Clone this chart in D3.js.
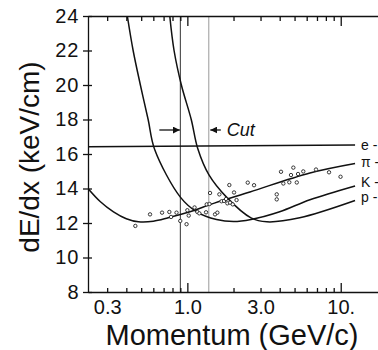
<!DOCTYPE html>
<html>
<head>
<meta charset="utf-8">
<script src="https://cdn.jsdelivr.net/npm/d3@7"></script>
<style>
    body { margin: 0; background: #fff; }
    svg text { font-family: "Liberation Sans", Arial, sans-serif; fill: #111; }
    .axis path, .axis line { stroke: #111; stroke-width: 1.3; }
</style>
</head>
<body>
<svg id="chart" width="378" height="350"></svg>
<script>
// momentum in GeV/c, dE/dx in keV/cm
const xTickValues = [0.3, 1, 3, 10];
const xTickLabels = ["0.3", "1.0", "3.0", "10."];
const yTickValues = [8, 10, 12, 14, 16, 18, 20, 22, 24];

const electronBand = [[0.225, 16.42], [12.4, 16.52]];
const pionBand = [[0.225, 14.0], [0.27, 13.25], [0.33, 12.65], [0.4, 12.25], [0.48, 12.07], [0.6, 12.1],
    [0.75, 12.3], [1.04, 12.65], [1.5, 13.15], [2.56, 13.8], [6.3, 14.9], [12.4, 15.45]];
const kaonBand = [[0.406, 24], [0.443, 22], [0.494, 20], [0.555, 18], [0.613, 16.25],
    [0.9, 13.5], [1.15, 12.65], [1.55, 12.2], [2.0, 12.08], [2.6, 12.2], [4.0, 12.65], [6.3, 13.35], [12.4, 14.15]];
const protonBand = [[0.768, 24], [0.819, 22], [0.914, 20], [1.06, 18], [1.17, 16.3], [1.38, 14.8],
    [1.8, 13.5], [2.6, 12.3], [3.3, 12.07], [5.4, 12.3], [12.4, 13.3]];
const bandNames = ["e -", "π -", "K -", "p -"];
const labelNudge = [0, 1, 4, 4];

const cutMomenta = [0.9, 1.38];

const trackMomentum = [0.458, 0.571, 0.684, 0.763, 0.783, 0.850, 0.899, 0.988, 1.0, 1.021, 1.114, 1.162,
    1.197, 1.324, 1.338, 1.395, 1.406, 1.515, 1.569, 1.617, 1.671, 1.735, 1.788, 1.823, 1.878, 1.898,
    1.977, 2.016, 2.093, 2.476, 2.722, 3.826, 3.826, 4.08, 4.225, 4.62, 4.74, 4.91, 5.17, 5.27, 5.70,
    6.90, 8.39, 9.97];
const trackDedx = [11.83, 12.50, 12.60, 12.64, 12.35, 12.60, 12.12, 11.93, 12.74, 12.43, 12.90, 12.64,
    12.56, 12.62, 13.08, 13.10, 13.74, 12.50, 12.60, 13.66, 13.26, 13.28, 13.39, 13.14, 14.20, 13.18,
    13.08, 13.77, 13.33, 14.34, 14.19, 13.66, 13.37, 14.97, 14.29, 14.36, 14.78, 15.21, 14.35, 14.84,
    14.99, 15.10, 14.94, 14.68];

/** Draws the dE/dx versus momentum plot. */
class DedxPlot {
    constructor(svgId) {
        this.svg = d3.select(svgId);
        this.x = d3.scaleLog().domain([0.225, 17.5]).range([88, 378]);
        this.y = d3.scaleLinear().domain([8, 24]).range([292, 16]);
    }

    isDecade(v) {
        return Math.abs(Math.log10(v) - Math.round(Math.log10(v))) < 1e-6;
    }

    drawAxes() {
        let x = this.x, y = this.y;
        let minor = x.ticks();

        // bottom axis, ticks point into the plot
        let bottom = this.svg.append("g").attr("class", "axis")
            .attr("transform", "translate(0,292)")
            .call(d3.axisBottom(x).tickValues(minor).tickSizeOuter(0).tickSizeInner(-4).tickPadding(8)
                .tickFormat(d => {
                    let i = xTickValues.findIndex(t => Math.abs(t - d) < 1e-6);
                    return i < 0 ? "" : xTickLabels[i];
                }));
        bottom.selectAll(".tick line").attr("y2", d => this.isDecade(d) ? -9 : -4);
        bottom.selectAll("text").style("font-size", "20px");

        // top axis, no labels
        let top = this.svg.append("g").attr("class", "axis")
            .attr("transform", "translate(0,16)")
            .call(d3.axisTop(x).tickValues(minor).tickSizeOuter(0).tickSizeInner(-5).tickFormat(""));
        top.selectAll(".tick line").attr("y2", d => this.isDecade(d) ? 10 : 5);

        // left axis
        let left = this.svg.append("g").attr("class", "axis")
            .attr("transform", "translate(88,0)")
            .call(d3.axisLeft(y).tickValues(yTickValues).tickSizeOuter(0).tickSizeInner(5).tickPadding(3.5));
        left.selectAll(".tick line").attr("x1", 4);
        left.selectAll("text").style("font-size", "20px").style("letter-spacing", "1px");

        this.svg.selectAll(".axis .domain").attr("fill", "none");
        this.svg.selectAll(".axis text").attr("fill", "#111").attr("font-family", null);

        this.svg.append("text")
            .attr("x", 232).attr("y", 345)
            .attr("text-anchor", "middle")
            .style("font-size", "29px")
            .text("Momentum (GeV/c)");

        this.svg.append("text")
            .attr("transform", "translate(39,157) rotate(-90)")
            .attr("text-anchor", "middle")
            .style("font-size", "28px")
            .text("dE/dx (keV/cm)");
    }

    drawBands() {
        let x = this.x, y = this.y;
        this.svg.append("clipPath").attr("id", "plot-clip")
            .append("rect").attr("x", 88).attr("y", 16).attr("width", 290).attr("height", 276);

        let line = d3.line()
            .x(d => x(d[0]))
            .y(d => y(d[1]))
            .curve(d3.curveCatmullRom.alpha(0.5));

        let bands = [electronBand, pionBand, kaonBand, protonBand];
        this.svg.append("g").attr("clip-path", "url(#plot-clip)")
            .selectAll("path")
            .data(bands)
            .enter()
            .append("path")
            .attr("d", line)
            .attr("fill", "none")
            .attr("stroke", "#111")
            .attr("stroke-width", 1.5);

        this.svg.append("g")
            .selectAll("text")
            .data(bands)
            .enter()
            .append("text")
            .attr("x", 361)
            .attr("y", (d, i) => y(d[d.length - 1][1]) + 5 - labelNudge[i])
            .style("font-size", "14px")
            .text((d, i) => bandNames[i]);
    }

    drawCut() {
        let x = this.x, y = this.y;
        let shades = ["#333", "#999"];

        this.svg.append("g")
            .selectAll("line")
            .data(cutMomenta)
            .enter()
            .append("line")
            .attr("x1", d => x(d)).attr("x2", d => x(d))
            .attr("y1", y(24)).attr("y2", y(8))
            .attr("stroke", (d, i) => shades[i])
            .attr("stroke-width", 1);

        this.svg.append("defs").append("marker")
            .attr("id", "head")
            .attr("viewBox", "0 0 10 10")
            .attr("refX", 10).attr("refY", 5)
            .attr("markerUnits", "userSpaceOnUse")
            .attr("markerWidth", 7).attr("markerHeight", 7)
            .attr("orient", "auto")
            .append("path").attr("d", "M0,0 L10,5 L0,10 Z").attr("fill", "#111");

        let ay = 130;
        this.svg.append("line")
            .attr("x1", x(cutMomenta[0]) - 21).attr("x2", x(cutMomenta[0]) - 0.5)
            .attr("y1", ay).attr("y2", ay)
            .attr("stroke", "#111").attr("stroke-width", 1.3)
            .attr("marker-end", "url(#head)");
        this.svg.append("line")
            .attr("x1", x(cutMomenta[1]) + 12).attr("x2", x(cutMomenta[1]) + 1.5)
            .attr("y1", ay).attr("y2", ay)
            .attr("stroke", "#111").attr("stroke-width", 1.3)
            .attr("marker-end", "url(#head)");

        this.svg.append("text")
            .attr("x", x(cutMomenta[1]) + 18).attr("y", ay + 6)
            .style("font-size", "18px")
            .style("font-style", "italic")
            .text("Cut");
    }

    drawTracks() {
        let x = this.x, y = this.y;
        this.svg.append("g")
            .selectAll("circle")
            .data(trackMomentum)
            .enter()
            .append("circle")
            .attr("cx", d => x(d))
            .attr("cy", (d, i) => y(trackDedx[i]))
            .attr("r", 1.7)
            .attr("fill", "#fff")
            .attr("stroke", "#222")
            .attr("stroke-width", 0.9);
    }
}

let plot = new DedxPlot("#chart");
plot.drawCut();
plot.drawBands();
plot.drawTracks();
plot.drawAxes();
</script>
</body>
</html>
